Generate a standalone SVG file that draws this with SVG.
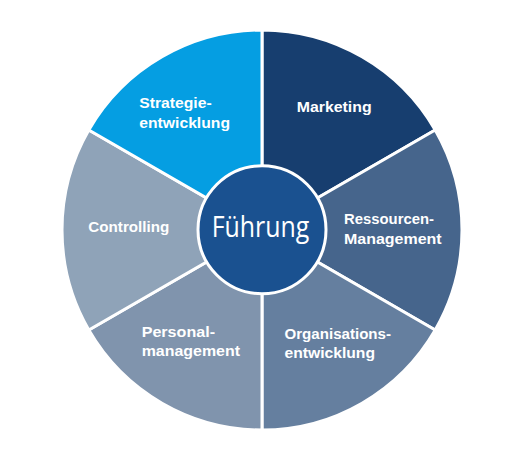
<svg xmlns="http://www.w3.org/2000/svg" width="524" height="459" viewBox="0 0 524 459">
  <style>
    .seg { stroke: #ffffff; stroke-width: 3; stroke-linejoin: round; }
    .lbl { font-family: "Liberation Sans", Arial, sans-serif; font-weight: bold; font-size: 15.5px; fill: #ffffff; }
    .hub { font-family: "Open Sans", "Liberation Sans", sans-serif; font-size: 29px; fill: #ffffff; }
  </style>
  <rect width="524" height="459" fill="#ffffff"/>
  <g id="marketing">
    <path class="seg" fill="#173e6f" d="M262,230 L262,30 A200,200 0 0 1 435.2,130 Z"/>
    <text class="lbl" x="296.7" y="111.7" textLength="75" lengthAdjust="spacingAndGlyphs">Marketing</text>
  </g>
  <g id="ressourcen-management">
    <path class="seg" fill="#46658c" d="M262,230 L435.2,130 A200,200 0 0 1 435.2,330 Z"/>
    <text class="lbl" x="344" y="224" textLength="90" lengthAdjust="spacingAndGlyphs">Ressourcen-</text>
    <text class="lbl" x="344" y="243.5" textLength="97.7" lengthAdjust="spacingAndGlyphs">Management</text>
  </g>
  <g id="organisationsentwicklung">
    <path class="seg" fill="#657f9f" d="M262,230 L435.2,330 A200,200 0 0 1 262,430 Z"/>
    <text class="lbl" x="284.5" y="338.5" textLength="106.5" lengthAdjust="spacingAndGlyphs">Organisations-</text>
    <text class="lbl" x="284.5" y="358.3" textLength="90.5" lengthAdjust="spacingAndGlyphs">entwicklung</text>
  </g>
  <g id="personalmanagement">
    <path class="seg" fill="#8094ad" d="M262,230 L262,430 A200,200 0 0 1 88.8,330 Z"/>
    <text class="lbl" x="141.7" y="336.7" textLength="73.3" lengthAdjust="spacingAndGlyphs">Personal-</text>
    <text class="lbl" x="141.7" y="356.2" textLength="98.3" lengthAdjust="spacingAndGlyphs">management</text>
  </g>
  <g id="controlling">
    <path class="seg" fill="#8fa3b8" d="M262,230 L88.8,330 A200,200 0 0 1 88.8,130 Z"/>
    <text class="lbl" x="88.3" y="231.7" textLength="81" lengthAdjust="spacingAndGlyphs">Controlling</text>
  </g>
  <g id="strategieentwicklung">
    <path class="seg" fill="#059ee2" d="M262,230 L88.8,130 A200,200 0 0 1 262,30 Z"/>
    <text class="lbl" x="139.3" y="108.3" textLength="72.4" lengthAdjust="spacingAndGlyphs">Strategie-</text>
    <text class="lbl" x="139.3" y="127.8" textLength="90.7" lengthAdjust="spacingAndGlyphs">entwicklung</text>
  </g>
  <g id="fuehrung">
    <circle cx="262" cy="229.8" r="64" fill="#1a5190" stroke="#ffffff" stroke-width="3"/>
    <text class="hub" x="211.7" y="236.7" textLength="97.6" lengthAdjust="spacingAndGlyphs">Führung</text>
  </g>
</svg>
